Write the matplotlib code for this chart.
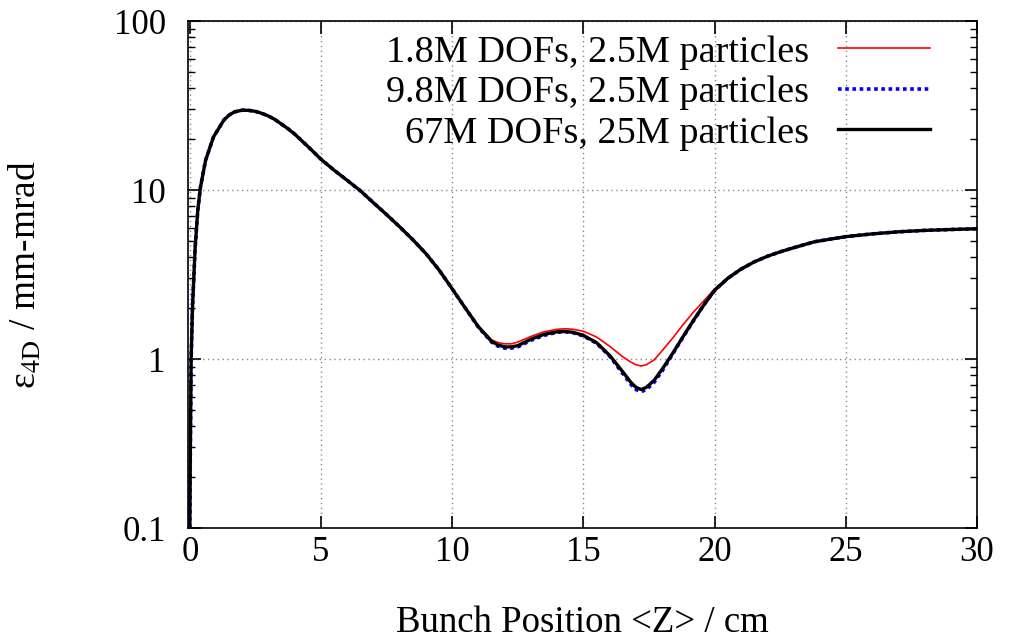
import matplotlib
matplotlib.use('Agg')
import matplotlib.pyplot as plt
from matplotlib.ticker import LogLocator, NullFormatter, FixedLocator

plt.rcParams['font.family'] = ['Liberation Serif', 'DejaVu Serif']
plt.rcParams['mathtext.fontset'] = 'stix'

# Data (bunch position in cm, emittance in mm-mrad)
z = [0, 0.02, 0.05, 0.1, 0.2, 0.3, 0.4, 0.6, 0.9, 1.3, 1.5, 1.7, 2.0, 2.25, 2.5, 2.75,
     3.0, 3.25, 3.5, 3.75, 4.0, 4.5, 5.0, 5.5, 6.0, 6.5, 7.0, 7.5, 8.0, 8.5, 9.0, 9.5,
     10.0, 10.5, 11.0, 11.5, 11.75, 12.0, 12.25, 12.5, 13.0, 13.5, 14.0, 14.3, 14.6,
     15.0, 15.5, 16.0, 16.5, 16.8, 17.0, 17.2, 17.4, 17.7, 18.0, 18.4, 18.8, 19.2,
     19.6, 20.0, 20.5, 21.0, 21.5, 22.0, 22.5, 23.0, 23.8, 24.5, 25.0, 26.0, 27.0,
     28.0, 29.0, 30.0]

eps_67M = [0.1, 0.3, 1.0, 2.0, 4.5, 7.5, 10.3, 15.0, 20.6, 26.0, 27.8, 29.0, 29.7, 29.6, 29.2, 28.4,
           27.4, 26.1, 24.5, 23.0, 21.4, 18.1, 15.2, 13.1, 11.4, 9.9, 8.4, 7.15, 6.05, 5.08, 4.2, 3.36,
           2.6, 2.0, 1.55, 1.27, 1.21, 1.18, 1.18, 1.2, 1.31, 1.40, 1.45, 1.455, 1.44,
           1.38, 1.25, 1.05, 0.84, 0.73, 0.68, 0.66, 0.68, 0.75, 0.87, 1.08, 1.36, 1.70,
           2.1, 2.55, 3.0, 3.4, 3.75, 4.05, 4.31, 4.55, 4.94, 5.15, 5.3, 5.5, 5.66,
           5.77, 5.84, 5.9]

eps_9M8 = [0.1, 0.3, 1.0, 2.0, 4.5, 7.5, 10.3, 15.0, 20.6, 26.0, 27.8, 29.0, 29.7, 29.6, 29.2, 28.4,
           27.4, 26.1, 24.5, 23.0, 21.4, 18.1, 15.2, 13.1, 11.4, 9.9, 8.4, 7.15, 6.05, 5.08, 4.2, 3.36,
           2.6, 2.0, 1.54, 1.26, 1.19, 1.16, 1.16, 1.18, 1.29, 1.38, 1.44, 1.45, 1.43,
           1.37, 1.24, 1.04, 0.82, 0.71, 0.66, 0.64, 0.66, 0.73, 0.85, 1.07, 1.35, 1.69,
           2.1, 2.55, 3.0, 3.4, 3.75, 4.05, 4.31, 4.55, 4.94, 5.15, 5.3, 5.5, 5.66,
           5.77, 5.84, 5.9]

eps_1M8 = [0.1, 0.3, 1.0, 2.0, 4.5, 7.5, 10.3, 15.0, 20.6, 26.0, 27.8, 29.0, 29.7, 29.6, 29.2, 28.4,
           27.4, 26.1, 24.5, 23.0, 21.4, 18.1, 15.2, 13.1, 11.4, 9.9, 8.4, 7.15, 6.05, 5.08, 4.2, 3.36,
           2.6, 2.0, 1.57, 1.30, 1.25, 1.23, 1.23, 1.26, 1.36, 1.45, 1.50, 1.51, 1.50,
           1.46, 1.35, 1.19, 1.03, 0.96, 0.925, 0.91, 0.925, 0.99, 1.12, 1.33, 1.60, 1.90,
           2.22, 2.6, 3.04, 3.42, 3.76, 4.05, 4.31, 4.55, 4.94, 5.15, 5.3, 5.5, 5.66,
           5.77, 5.84, 5.9]

labels = ['1.8M DOFs, 2.5M particles', '9.8M DOFs, 2.5M particles', '67M DOFs, 25M particles']
x_ticks = [0, 5, 10, 15, 20, 25, 30]
y_ticks = [0.1, 1, 10, 100]
y_tick_labels = ['0.1', '1', '10', '100']

fig = plt.figure(figsize=(10.19, 6.38), dpi=100)
ax = fig.add_axes([0.1845, 0.1724, 0.7743, 0.7946])

ax.plot(z, eps_1M8, color='red', lw=1.2, label=labels[0])
ax.plot(z, eps_9M8, color='blue', lw=2.6, linestyle=(0, (1, 1)), label=labels[1])
ax.plot(z, eps_67M, color='black', lw=2.4, label=labels[2])

ax.set_yscale('log')
ax.set_xlim(-0.07, 30)
ax.set_ylim(0.1, 100)
ax.xaxis.set_major_locator(FixedLocator(x_ticks))
ax.set_xticklabels([str(t) for t in x_ticks])
ax.set_yticks(y_ticks)
ax.set_yticklabels(y_tick_labels)
ax.yaxis.set_minor_locator(LogLocator(base=10, subs=range(2, 10)))
ax.yaxis.set_minor_formatter(NullFormatter())

ax.tick_params(which='both', direction='in', top=True, right=True, labelsize=25)
ax.tick_params(which='major', length=9, width=1.2)
ax.tick_params(which='minor', length=5, width=1.0)
ax.tick_params(axis='x', which='major', pad=6)
ax.tick_params(axis='y', which='major', pad=16)
for s in ax.spines.values():
    s.set_linewidth(1.2)

ax.grid(True, which='major', linestyle=(0, (1, 2.5)), color='#888888', lw=1.0)

ax.set_xlabel('Bunch Position <Z> / cm', fontsize=26.5)
ax.xaxis.set_label_coords(0.5, -0.152)
ax.set_ylabel('ε$_{\\mathrm{4D}}$ / mm-mrad', fontsize=27)
ax.yaxis.set_label_coords(-0.183, 0.5)

ax.legend(loc='upper right', bbox_to_anchor=(0.9696, 1.018), frameon=False, markerfirst=False,
          fontsize=27.5, handlelength=2.4, handletextpad=0.78, labelspacing=0.15,
          borderaxespad=0.2)

fig.savefig('out.png', dpi=100)
